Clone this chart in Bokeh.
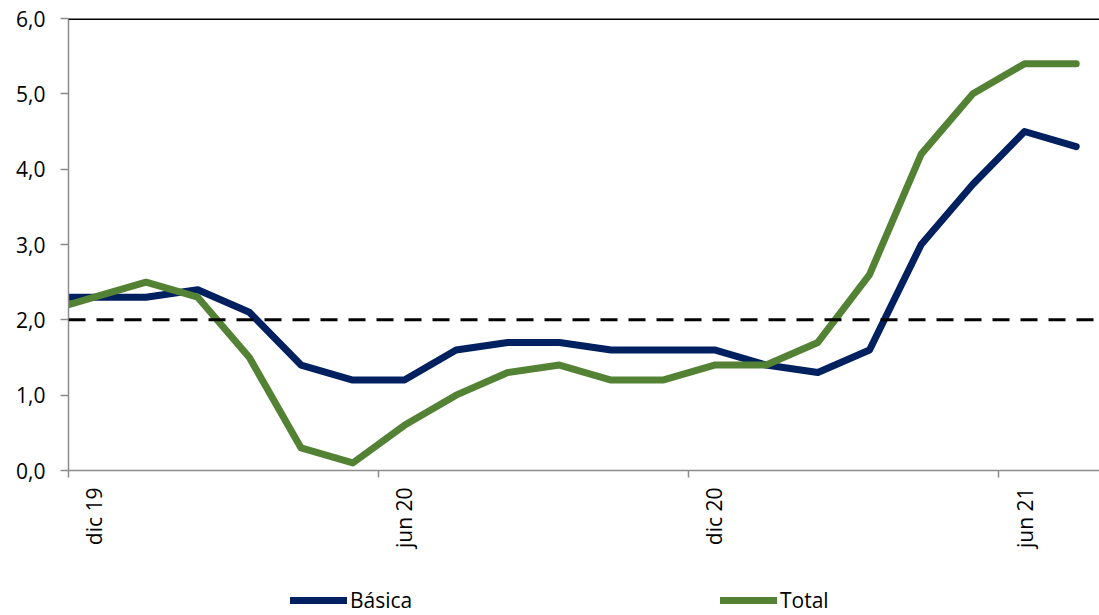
import math
from bokeh.plotting import figure
from bokeh.layouts import column
from bokeh.models import Range1d, FixedTicker, LinearAxis, Span, Legend, LegendItem
from bokeh.embed import file_html
from bokeh.resources import INLINE

# ---- data ----
months = ["nov 19", "dic 19", "ene 20", "feb 20", "mar 20", "abr 20", "may 20",
          "jun 20", "jul 20", "ago 20", "sep 20", "oct 20", "nov 20", "dic 20",
          "ene 21", "feb 21", "mar 21", "abr 21", "may 21", "jun 21", "jul 21"]
basica = [2.3, 2.3, 2.3, 2.4, 2.1, 1.4, 1.2, 1.2, 1.6, 1.7, 1.7, 1.6, 1.6, 1.6,
          1.4, 1.3, 1.6, 3.0, 3.8, 4.5, 4.3]
total = [2.1, 2.3, 2.5, 2.3, 1.5, 0.3, 0.1, 0.6, 1.0, 1.3, 1.4, 1.2, 1.2, 1.4,
         1.4, 1.7, 2.6, 4.2, 5.0, 5.4, 5.4]
tick_labels = ["dic 19", "jun 20", "dic 20", "jun 21"]
y_ticks = [0, 1, 2, 3, 4, 5, 6]
target = 2.0
series_names = ["Básica", "Total"]

# month slots: "dic 19" slot starts at 0; points sit at slot centres
first = months.index("dic 19")
x = [i - first + 0.5 for i in range(len(months))]
boundaries = [months.index(l) - first for l in tick_labels]
label_pos = [b + 0.5 for b in boundaries]

FONT = "Open Sans"
FS = "21px"
BLUE = "#002060"
GREEN = "#548235"
AXIS_GREY = "#8c8c8c"
LINE_STYLE = dict(line_width=7, line_cap="round", line_join="round")

p = figure(width=1099, height=551, x_range=Range1d(0, 19.95), y_range=Range1d(0, 6),
           output_backend="svg", toolbar_location=None,
           min_border_left=68, min_border_right=0, min_border_top=18, min_border_bottom=80)
p.outline_line_color = None
p.grid.visible = False
p.background_fill_color = "white"
p.border_fill_color = "white"

p.line(x, basica, line_color=BLUE, **LINE_STYLE)
p.line(x, total, line_color=GREEN, **LINE_STYLE)

# top border line and target line
p.add_layout(Span(location=y_ticks[-1], dimension="width", line_color="black", line_width=3))
p.add_layout(Span(location=target, dimension="width", line_color="black", line_width=3,
                  line_dash="17 11"))

# y axis
ya = p.yaxis[0]
ya.ticker = FixedTicker(ticks=y_ticks)
ya.major_label_overrides = {v: f"{v:.1f}".replace(".", ",") for v in y_ticks}
ya.axis_line_color = AXIS_GREY
ya.axis_line_width = 1.5
ya.major_tick_line_color = AXIS_GREY
ya.major_tick_line_width = 1.5
ya.major_tick_in = 0
ya.major_tick_out = 8
ya.minor_tick_line_color = None
ya.major_label_standoff = 15
ya.major_label_text_font = FONT
ya.major_label_text_font_size = FS
ya.major_label_text_color = "black"

# x axis: ticks at month boundaries (no labels)
xa = p.xaxis[0]
xa.ticker = FixedTicker(ticks=boundaries)
xa.major_label_overrides = {b: "" for b in boundaries}
xa.major_label_text_font_size = "0px"
xa.major_label_standoff = 0
xa.axis_line_color = AXIS_GREY
xa.axis_line_width = 1.5
xa.major_tick_line_color = AXIS_GREY
xa.major_tick_line_width = 1.5
xa.major_tick_in = 0
xa.major_tick_out = 7
xa.minor_tick_line_color = None

# x labels at slot centres
xl = LinearAxis(ticker=FixedTicker(ticks=label_pos),
                major_label_overrides={pos: lbl for pos, lbl in zip(label_pos, tick_labels)},
                axis_line_color=None, major_tick_line_color=None, minor_tick_line_color=None,
                major_tick_in=0, major_tick_out=0, major_label_standoff=10,
                major_label_orientation=math.pi / 2,
                major_label_text_font=FONT, major_label_text_font_size=FS,
                major_label_text_color="black")
p.add_layout(xl, "below")

# legend strip: a small figure whose (off-range) copies of the series give the legend glyphs
lf = figure(width=1099, height=64, x_range=Range1d(0, 19.95), y_range=Range1d(100, 101),
            output_backend="svg", toolbar_location=None,
            x_axis_type=None, y_axis_type=None, min_border=0)
lf.outline_line_color = None
lf.grid.visible = False
lr1 = lf.line(x, basica, line_color=BLUE, **LINE_STYLE)
lr2 = lf.line(x, total, line_color=GREEN, **LINE_STYLE)
legend = Legend(items=[LegendItem(label=series_names[0], renderers=[lr1]),
                       LegendItem(label=series_names[1], renderers=[lr2])],
                orientation="horizontal", location=(222, 1),
                padding=0, margin=0, spacing=0, glyph_width=57, glyph_height=24,
                label_standoff=3, label_width=370,
                label_text_font=FONT, label_text_font_size=FS, label_text_color="black",
                border_line_color=None, background_fill_alpha=0)
lf.add_layout(legend)

open("out.html", "w").write(file_html(column(p, lf), INLINE))
